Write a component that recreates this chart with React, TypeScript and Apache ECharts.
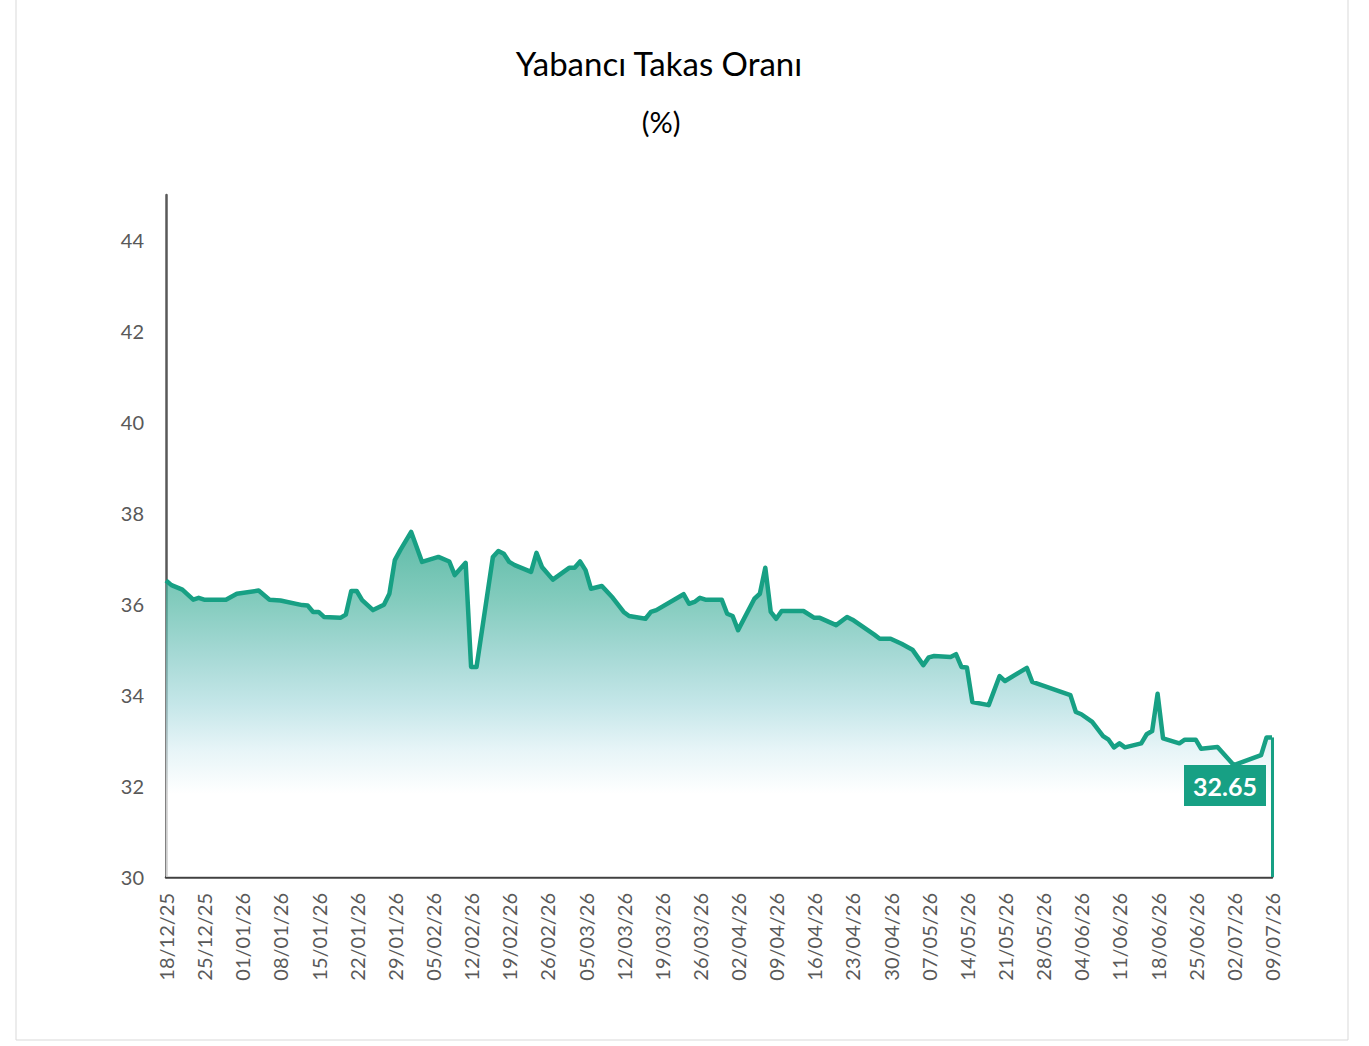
import React, { useEffect, useRef } from "react";
import * as echarts from "echarts";

// Daily category axis: 18/12/25 .. 09/07/26 (204 days), labels every 7 days
const START_DATE = [2025, 11, 18];
const DAY_COUNT = 204;

// Observed points (day offset from 18/12/25, foreign ownership ratio %)
const dayIndex = [
  0, 1, 3, 5, 6, 7, 11, 13, 17, 19, 21, 25, 26, 27, 28, 29, 32, 33, 34, 35,
  36, 38, 40, 41, 42, 43, 45, 47, 50, 52, 53, 55, 56, 57, 60, 61, 62, 63, 64, 67,
  68, 69, 71, 74, 75, 76, 77, 78, 80, 82, 84, 85, 88, 89, 90, 95, 96, 97, 98, 99,
  102, 103, 104, 105, 108, 109, 110, 111, 112, 113, 117, 119, 120, 123, 125, 126, 130, 131, 133, 135,
  137, 139, 140, 141, 144, 145, 146, 147, 148, 151, 153, 154, 158, 159, 166, 167, 168, 170, 172, 173,
  174, 175, 176, 179, 180, 181, 182, 183, 186, 187, 189, 190, 193, 196, 201, 202, 203,
];
const rate = [
  36.52, 36.42, 36.32, 36.1, 36.14, 36.1, 36.1, 36.23, 36.3, 36.1, 36.08, 35.98, 35.97, 35.83, 35.83, 35.72, 35.7, 35.77, 36.29, 36.29,
  36.09, 35.87, 35.99, 36.23, 36.97, 37.19, 37.59, 36.93, 37.04, 36.94, 36.64, 36.91, 34.62, 34.62, 37.04, 37.17, 37.11, 36.93, 36.86, 36.71,
  37.13, 36.82, 36.54, 36.8, 36.8, 36.94, 36.75, 36.34, 36.4, 36.14, 35.83, 35.74, 35.68, 35.83, 35.87, 36.22, 36.01, 36.05, 36.14, 36.1,
  36.1, 35.79, 35.74, 35.43, 36.12, 36.23, 36.8, 35.83, 35.68, 35.85, 35.85, 35.7, 35.7, 35.54, 35.72, 35.66, 35.33, 35.24, 35.24, 35.13,
  35.0, 34.66, 34.83, 34.86, 34.84, 34.9, 34.62, 34.61, 33.85, 33.78, 34.42, 34.31, 34.6, 34.29, 34.0, 33.63, 33.58, 33.41, 33.1, 33.02,
  32.85, 32.94, 32.85, 32.94, 33.14, 33.21, 34.03, 33.05, 32.94, 33.02, 33.02, 32.82, 32.86, 32.46, 32.68, 33.07, 33.07,
];
const lastLabel = "32.65";
const lastLabelValue = 32.65;

const TITLE = "Yabancı Takas Oranı";
const SUBTITLE = "(%)";

const pad = (n: number) => (n < 10 ? "0" + n : "" + n);

function buildCategories(): string[] {
  const out: string[] = [];
  for (let i = 0; i < DAY_COUNT; i++) {
    const d = new Date(START_DATE[0], START_DATE[1], START_DATE[2] + i);
    out.push(pad(d.getDate()) + "/" + pad(d.getMonth() + 1) + "/" + pad(d.getFullYear() % 100));
  }
  return out;
}

export default function App() {
  const ref = useRef<HTMLDivElement>(null);
  useEffect(() => {
    if (!ref.current) return;
    const chart = echarts.init(ref.current, undefined, { renderer: "svg" });
    const categories = buildCategories();
    const values: (number | null)[] = categories.map(() => null);
    dayIndex.forEach((d, i) => {
      values[d] = rate[i];
    });
    const lastIdx = dayIndex[dayIndex.length - 1];
    const lastVal = rate[rate.length - 1];
    const teal = "#17a084";
    const font = "Lato, 'Open Sans', sans-serif";

    chart.setOption({
      animation: false,
      backgroundColor: "#ffffff",
      graphic: [
        {
          type: "rect",
          shape: { x: 16, y: -10, width: 1332, height: 1050 },
          style: { fill: "none", stroke: "#d9d9d9", lineWidth: 1 },
          silent: true,
        },
        {
          type: "text",
          x: 659,
          y: 63,
          style: {
            text: TITLE,
            fill: "#000000",
            font: "33px " + font,
            align: "center",
            verticalAlign: "middle",
          },
        },
        {
          type: "text",
          x: 661,
          y: 121,
          style: {
            text: SUBTITLE,
            fill: "#000000",
            font: "29px " + font,
            align: "center",
            verticalAlign: "middle",
          },
        },
      ],
      grid: {
        left: 166,
        right: 97,
        top: 195,
        bottom: 169,
        containLabel: false,
        outerBoundsMode: "none",
      },
      xAxis: {
        type: "category",
        data: categories,
        boundaryGap: false,
        axisLine: { show: true, lineStyle: { color: "#404040", width: 2.5 } },
        axisTick: { show: false },
        splitLine: { show: false },
        axisLabel: {
          interval: 6,
          rotate: 90,
          margin: 16,
          color: "#595959",
          fontSize: 20,
          fontFamily: font,
        },
      },
      yAxis: {
        type: "value",
        min: 30,
        max: 45,
        interval: 2,
        axisLine: { show: true, lineStyle: { color: "#595959", width: 2.5 } },
        axisTick: { show: false },
        splitLine: { show: false },
        axisLabel: {
          showMaxLabel: false,
          margin: 22,
          color: "#595959",
          fontSize: 20,
          fontFamily: font,
        },
      },
      series: [
        {
          type: "line",
          data: values,
          connectNulls: true,
          showSymbol: false,
          symbol: "none",
          lineStyle: { color: teal, width: 4.5, join: "round" },
          areaStyle: {
            color: new echarts.graphic.LinearGradient(0, 0, 0, 1, [
              { offset: 0, color: "#1a9e82" },
              { offset: 0.2, color: "#4fb6a2" },
              { offset: 0.35, color: "#7ec8c2" },
              { offset: 0.5, color: "#acdcdf" },
              { offset: 0.63, color: "#dcf0f4" },
              { offset: 0.76, color: "#ffffff" },
              { offset: 1, color: "#ffffff" },
            ]),
          },
          markLine: {
            silent: true,
            symbol: "none",
            label: { show: false },
            lineStyle: { color: teal, width: 3, type: "solid" },
            data: [
              [
                { coord: [categories[lastIdx], lastVal] },
                { coord: [categories[lastIdx], 30] },
              ],
            ],
          },
          markPoint: {
            silent: true,
            data: [
              {
                coord: [categories[lastIdx], lastLabelValue],
                symbol: "rect",
                symbolSize: [82, 41],
                symbolOffset: [-47, 29],
                itemStyle: { color: teal },
                label: {
                  show: true,
                  position: "inside",
                  formatter: lastLabel,
                  color: "#ffffff",
                  fontSize: 25,
                  fontWeight: "bold",
                  fontFamily: font,
                },
              },
            ],
          },
        },
      ],
    });
    return () => chart.dispose();
  }, []);
  return (
    <div
      ref={ref}
      style={{ position: "fixed", left: 0, top: 0, width: 1369, height: 1046 }}
    />
  );
}
